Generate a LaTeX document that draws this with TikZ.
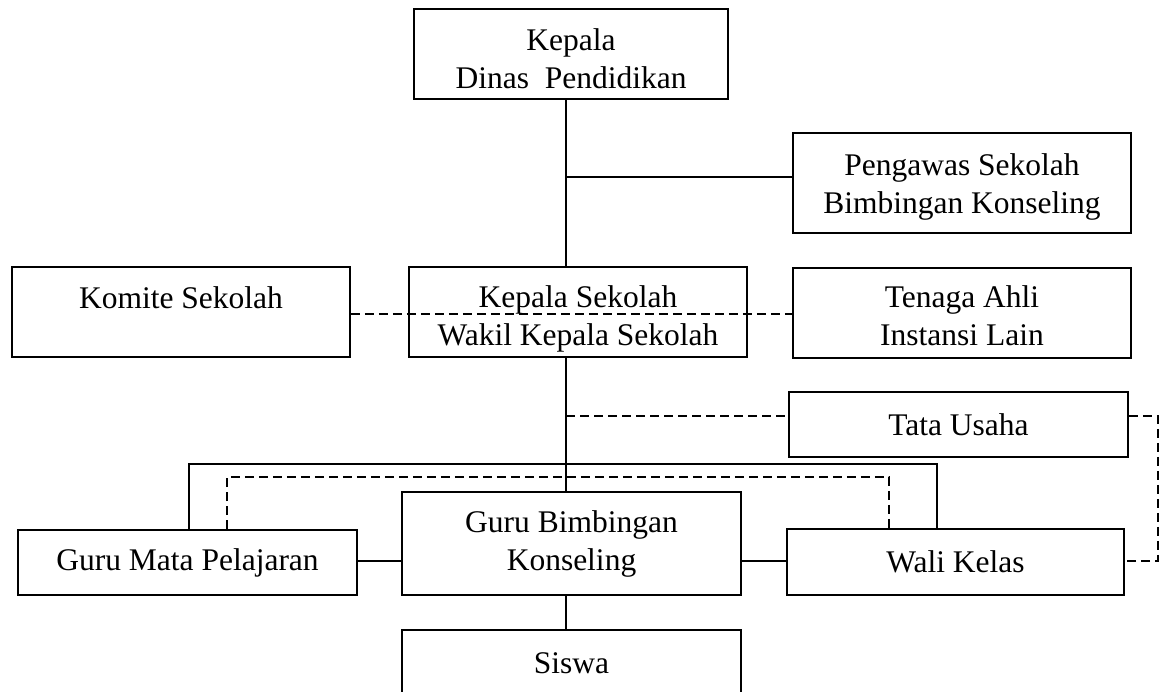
\documentclass[tikz,border=0pt]{standalone}
\usepackage{fontspec}
\setmainfont{Liberation Serif}
\newcommand{\topstrut}[1]{\rule{0pt}{#1}}
\begin{document}
\begin{tikzpicture}[x=1pt,y=-1pt,
  box/.style={draw,line width=1.7pt,inner sep=0pt,align=center,
    font=\fontsize{31.5}{38}\selectfont},
  conn/.style={line width=1.7pt},
  dconn/.style={line width=1.7pt,dash pattern=on 9pt off 5pt}]
\useasboundingbox (0,0) rectangle (1162,692);
\clip (0,0) rectangle (1162,692);

% boxes
\node[box,minimum width=314pt,minimum height=90pt]  (dinas)    at (571,54)    {\topstrut{30.5pt}Kepala\\Dinas\ \ Pendidikan};
\node[box,minimum width=338pt,minimum height=100pt] (pengawas) at (962,183)   {\topstrut{29.5pt}Pengawas Sekolah\\Bimbingan Konseling};
\node[box,minimum width=338pt,minimum height=90pt]  (komite)   at (181,312)   {\topstrut{30.5pt}Komite Sekolah\\ \mbox{}};
\node[box,minimum width=338pt,minimum height=90pt]  (ks)       at (578,312)   {\topstrut{35pt}Kepala Sekolah\\Wakil Kepala Sekolah};
\node[box,minimum width=338pt,minimum height=90pt]  (tenaga)   at (962,313)   {\topstrut{28pt}Tenaga Ahli\\Instansi Lain};
\node[box,minimum width=339pt,minimum height=65pt]  (tata)     at (958.5,424.5) {Tata Usaha};
\node[box,minimum width=339pt,minimum height=103pt] (gbk)      at (571.5,543.5) {Guru Bimbingan\\Konseling};
\node[box,minimum width=339pt,minimum height=65pt]  (gmp)      at (187.5,562.5) {Guru Mata Pelajaran};
\node[box,minimum width=337pt,minimum height=66pt]  (wali)     at (955.5,562) {Wali Kelas};
\node[box,minimum width=339pt,minimum height=66pt]  (siswa)    at (571.5,663) {Siswa};

% helper coordinates
\coordinate (spine) at (566,0);
\coordinate (pb) at (566,177);
\coordinate (dk) at (0,314);
\coordinate (tu) at (0,416);
\coordinate (loopx) at (1158,561);
\coordinate (sy) at (0,561);
\coordinate (sb) at (189,464);
\coordinate (se) at (937,464);
\coordinate (db) at (227,477);
\coordinate (de) at (889,477);

% solid connectors
\draw[conn] (dinas.south -| spine) -- (ks.north -| spine);
\draw[conn] (pb) -- (pb -| pengawas.west);
\draw[conn] (ks.south -| spine) -- (gbk.north -| spine);
\draw[conn] (gbk.south -| spine) -- (siswa.north -| spine);
\draw[conn] (gmp.east |- sy) -- (gbk.west |- sy);
\draw[conn] (gbk.east |- sy) -- (wali.west |- sy);
\draw[conn] (sb |- gmp.north) -- (sb) -- (se) -- (se |- wali.north);

% dashed connectors
\draw[dconn] (komite.east |- dk) -- (tenaga.west |- dk);
\draw[dconn] (spine |- tu) -- (tata.west |- tu);
\draw[dconn] (tata.east |- tu) -| (loopx) -- (wali.east |- loopx);
\draw[dconn] (db |- gmp.north) -- (db) -- (de) -- (de |- wali.north);
\end{tikzpicture}
\end{document}
